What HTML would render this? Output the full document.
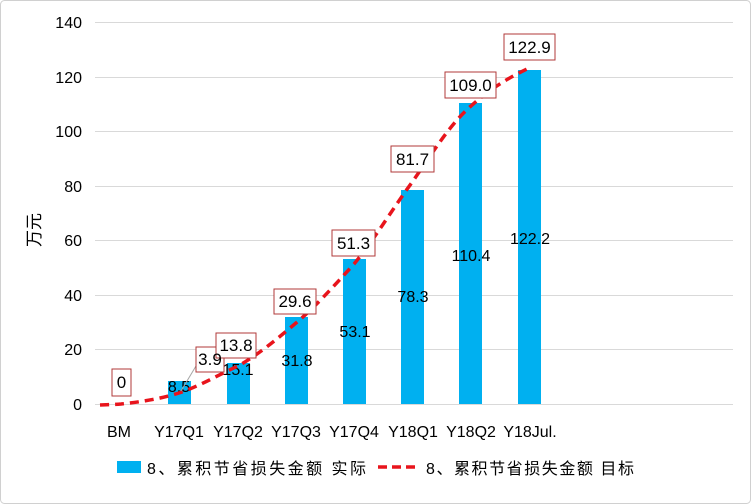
<!DOCTYPE html>
<html><head><meta charset="utf-8"><style>
body{margin:0;background:#fff}
svg{display:block;font-family:"Liberation Sans","Noto Sans CJK SC",sans-serif}
</style></head><body>
<svg width="751" height="504" viewBox="0 0 751 504">
<rect x="0.5" y="0.5" width="750" height="503" rx="4" fill="#fff" stroke="#d0d0d0"/>
<g stroke="#d9d9d9" stroke-width="1">
<line x1="95" x2="733" y1="22.5" y2="22.5"/><line x1="95" x2="733" y1="77.5" y2="77.5"/>
<line x1="95" x2="733" y1="131.5" y2="131.5"/><line x1="95" x2="733" y1="186.5" y2="186.5"/>
<line x1="95" x2="733" y1="240.5" y2="240.5"/><line x1="95" x2="733" y1="295.5" y2="295.5"/>
<line x1="95" x2="733" y1="349.5" y2="349.5"/><line x1="95" x2="733" y1="404.5" y2="404.5"/>
</g>
<g font-size="16" fill="#000" text-anchor="end">
<text x="82" y="28">140</text><text x="82" y="83">120</text><text x="82" y="137">100</text>
<text x="82" y="192">80</text><text x="82" y="246">60</text><text x="82" y="301">40</text>
<text x="82" y="355">20</text><text x="82" y="410">0</text>
</g>
<text transform="translate(40,230) rotate(-90)" font-size="17" text-anchor="middle">万元</text>
<g fill="#00b0f0">
<rect x="168" y="381" width="23" height="23"/>
<rect x="227" y="363" width="23" height="41"/>
<rect x="285" y="317" width="23" height="87"/>
<rect x="343" y="259" width="23" height="145"/>
<rect x="401" y="190" width="23" height="214"/>
<rect x="459" y="103" width="23" height="301"/>
<rect x="518" y="70" width="23" height="334"/>
</g>
<g font-size="16" text-anchor="middle">
<text x="179" y="392">8.5</text><text x="238" y="375">15.1</text><text x="297" y="366">31.8</text>
<text x="355" y="337">53.1</text><text x="413" y="302">78.3</text><text x="471" y="261">110.4</text>
<text x="530" y="244">122.2</text>
</g>
<path d="M100,405 C110,404.5 115,404.5 121,404 C140,402 160,399 179,393 C200,386 218,375 238,366 C258,355 277,339 296,323 C316,306 334,286 354,264 C374,240 393,208 413,181 C433,152 451,123 471,106 C491,88 510,77 529,68" fill="none" stroke="#e8141c" stroke-width="3.5" stroke-dasharray="9,6"/>
<line x1="181" y1="391" x2="196" y2="366" stroke="#a6a6a6"/>
<g fill="#fff" stroke="#b03a3a" stroke-width="1">
<rect x="112" y="369" width="19" height="27"/>
<rect x="196" y="347" width="28" height="25"/>
<rect x="216" y="333" width="40" height="25"/>
<rect x="274" y="289" width="42" height="25"/>
<rect x="332" y="230" width="43" height="26"/>
<rect x="391" y="146" width="43" height="26"/>
<rect x="445" y="72" width="51" height="26"/>
<rect x="504" y="34" width="51" height="26"/>
</g>
<g font-size="17" text-anchor="middle">
<text x="121.5" y="388">0</text><text x="210" y="365">3.9</text><text x="236" y="351">13.8</text>
<text x="295" y="307">29.6</text><text x="353.5" y="249">51.3</text><text x="412.5" y="165">81.7</text>
<text x="470.5" y="91">109.0</text><text x="529.5" y="53">122.9</text>
</g>
<g font-size="16" text-anchor="middle">
<text x="119" y="437">BM</text><text x="179" y="437">Y17Q1</text><text x="238" y="437">Y17Q2</text>
<text x="296" y="437">Y17Q3</text><text x="354" y="437">Y17Q4</text><text x="413" y="437">Y18Q1</text>
<text x="471" y="437">Y18Q2</text><text x="530" y="437">Y18Jul.</text>
</g>
<rect x="117" y="461" width="24" height="12" fill="#00b0f0"/>
<text x="147" y="474" font-size="16" textLength="219" lengthAdjust="spacing">8、累积节省损失金额 实际</text>
<line x1="378" y1="467" x2="420" y2="467" stroke="#e8141c" stroke-width="3.5" stroke-dasharray="9,5"/>
<text x="426" y="474" font-size="16" textLength="208" lengthAdjust="spacing">8、累积节省损失金额 目标</text>
</svg>
</body></html>
